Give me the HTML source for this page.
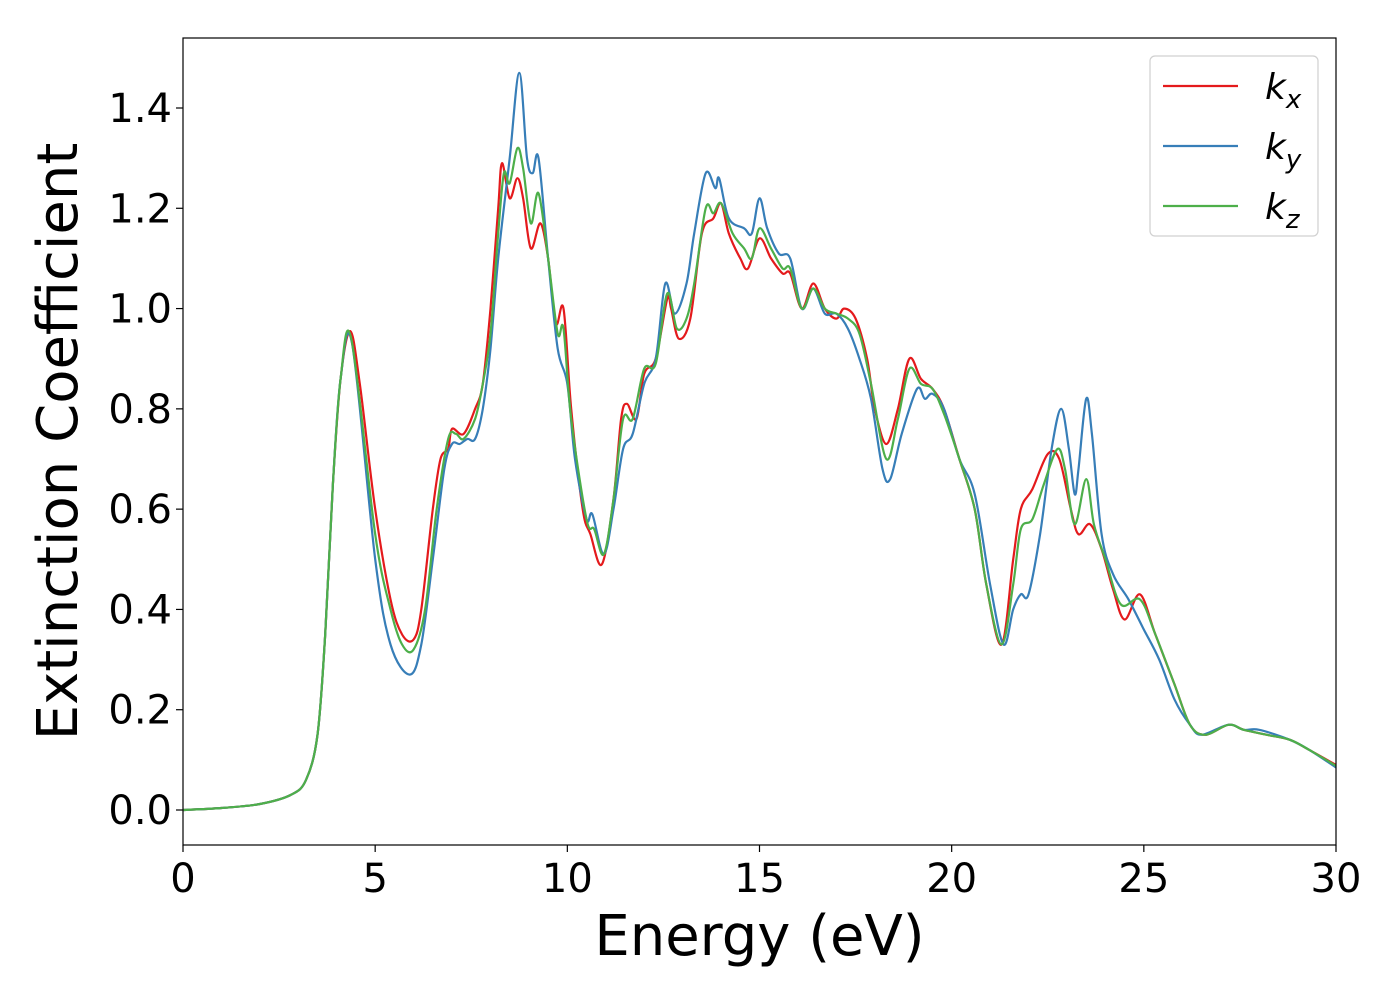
<!DOCTYPE html>
<html><head><meta charset="utf-8"><style>
body{margin:0;background:#fff;}
svg{display:block;font-family:"DejaVu Sans","Liberation Sans",sans-serif;}
</style></head><body>
<svg id="chart" width="1400" height="1000" viewBox="0 0 1400 1000"></svg>
<script>
const xTicks=[0,5,10,15,20,25,30];
const yTicks=[0.0,0.2,0.4,0.6,0.8,1.0,1.2,1.4];
const yTickLabels=["0.0","0.2","0.4","0.6","0.8","1.0","1.2","1.4"];
const baseE=[0,1,2,2.8,3.2,3.5,3.7,3.9,4.1];
const baseK=[0,0.004,0.012,0.03,0.06,0.15,0.35,0.65,0.86];
const kxE=[4.35,4.6,5,5.4,5.7,6,6.2,6.5,6.7,6.9,7.0,7.3,7.6,7.8,8.0,8.2,8.3,8.5,8.7,8.85,9.05,9.3,9.5,9.7,9.9,10.1,10.4,10.6,10.9,11.2,11.4,11.55,11.8,12.0,12.3,12.6,12.7,12.9,13.2,13.5,13.8,14.0,14.2,14.5,14.7,15.0,15.3,15.6,15.8,16.1,16.4,16.7,17.0,17.2,17.5,17.8,18.0,18.3,18.6,18.9,19.2,19.5,19.8,20.2,20.6,20.9,21.3,21.6,21.8,22.1,22.5,22.8,23.1,23.3,23.6,23.9,24.2,24.5,24.9,25.3,25.8,26.2,26.6,27.2,27.6,28.2,28.8,29.3,30];
const kxK=[0.955,0.85,0.6,0.42,0.35,0.34,0.4,0.6,0.7,0.72,0.76,0.75,0.8,0.85,1.0,1.2,1.29,1.22,1.26,1.22,1.12,1.17,1.1,0.97,1.0,0.8,0.6,0.55,0.49,0.62,0.78,0.81,0.78,0.87,0.9,1.02,1.0,0.94,0.98,1.15,1.18,1.21,1.15,1.1,1.08,1.14,1.1,1.07,1.07,1.0,1.05,1.0,0.98,1.0,0.98,0.9,0.8,0.73,0.8,0.9,0.86,0.84,0.8,0.7,0.6,0.45,0.33,0.5,0.6,0.64,0.71,0.7,0.6,0.55,0.57,0.52,0.44,0.38,0.43,0.35,0.25,0.17,0.15,0.17,0.16,0.15,0.14,0.12,0.09];
const kyE=[4.4,5,5.4,5.9,6.2,6.5,6.8,7.0,7.2,7.4,7.6,7.8,8.0,8.2,8.5,8.75,8.95,9.1,9.25,9.5,9.75,10.0,10.2,10.5,10.65,10.95,11.2,11.45,11.7,12.0,12.3,12.55,12.8,13.1,13.3,13.6,13.85,13.95,14.2,14.6,14.8,15.0,15.2,15.5,15.8,16.1,16.4,16.7,17.0,17.3,17.6,17.9,18.2,18.4,18.7,19.1,19.3,19.5,19.8,20.2,20.6,21.0,21.35,21.6,21.8,22.0,22.3,22.6,22.85,23.05,23.2,23.3,23.5,23.65,23.9,24.2,24.6,25.0,25.4,25.8,26.2,26.5,27.2,27.6,28.0,28.8,29.3,30];
const kyK=[0.93,0.5,0.33,0.27,0.33,0.5,0.68,0.73,0.73,0.74,0.74,0.8,0.92,1.1,1.3,1.47,1.3,1.27,1.3,1.1,0.92,0.85,0.7,0.58,0.59,0.51,0.6,0.72,0.75,0.85,0.9,1.05,0.99,1.05,1.15,1.27,1.24,1.26,1.18,1.16,1.15,1.22,1.16,1.11,1.1,1.0,1.04,0.99,0.99,0.96,0.9,0.82,0.68,0.66,0.75,0.84,0.82,0.83,0.8,0.7,0.63,0.45,0.33,0.4,0.43,0.43,0.55,0.72,0.8,0.72,0.63,0.68,0.82,0.75,0.55,0.47,0.42,0.36,0.3,0.22,0.17,0.15,0.17,0.16,0.16,0.14,0.12,0.085];
const kzE=[4.38,5,5.4,5.7,6.0,6.3,6.6,6.9,7.1,7.3,7.6,7.8,8.0,8.2,8.35,8.5,8.7,8.85,9.05,9.25,9.5,9.75,9.9,10.1,10.5,10.7,10.95,11.2,11.45,11.7,12.0,12.3,12.6,12.85,13.1,13.3,13.6,13.8,14.0,14.3,14.6,14.8,15.0,15.3,15.6,15.8,16.1,16.4,16.7,17.0,17.3,17.6,17.9,18.3,18.6,18.9,19.2,19.5,19.8,20.2,20.6,20.9,21.3,21.6,21.8,22.1,22.4,22.75,22.95,23.2,23.5,23.7,24.0,24.4,24.9,25.3,25.8,26.2,26.6,27.2,27.6,28.2,28.8,29.3,30];
const kzK=[0.94,0.55,0.4,0.33,0.32,0.4,0.6,0.74,0.75,0.74,0.78,0.85,0.95,1.15,1.27,1.25,1.32,1.28,1.17,1.23,1.1,0.95,0.96,0.78,0.58,0.56,0.51,0.62,0.78,0.78,0.88,0.89,1.03,0.96,0.98,1.05,1.2,1.19,1.21,1.15,1.12,1.1,1.16,1.12,1.08,1.08,1.0,1.04,1.0,0.99,0.98,0.95,0.85,0.7,0.78,0.88,0.85,0.84,0.79,0.7,0.6,0.45,0.33,0.45,0.56,0.58,0.65,0.72,0.68,0.57,0.66,0.57,0.5,0.41,0.42,0.35,0.25,0.17,0.15,0.17,0.16,0.15,0.14,0.12,0.088];

const NS="http://www.w3.org/2000/svg";
const svg=document.getElementById('chart');
const L=183,R=1336,T=38,B=845;
const sx=e=>L+(e-0)/(30-0)*(R-L);
const sy=k=>810-k*(810-108)/1.4;
function mk(tag,attrs,parent){const el=document.createElementNS(NS,tag);for(const a in attrs)el.setAttribute(a,attrs[a]);(parent||svg).appendChild(el);return el;}
function pathFrom(E,K){
  const p=E.map((e,i)=>[sx(e),sy(K[i])]);
  let d="M"+p[0][0].toFixed(1)+","+p[0][1].toFixed(1);
  for(let i=0;i<p.length-1;i++){
    const p0=p[i-1]||p[i],p1=p[i],p2=p[i+1],p3=p[i+2]||p2;
    const c1=[p1[0]+(p2[0]-p0[0])/6,p1[1]+(p2[1]-p0[1])/6];
    const c2=[p2[0]-(p3[0]-p1[0])/6,p2[1]-(p3[1]-p1[1])/6];
    d+=`C${c1[0].toFixed(1)},${c1[1].toFixed(1)} ${c2[0].toFixed(1)},${c2[1].toFixed(1)} ${p2[0].toFixed(1)},${p2[1].toFixed(1)}`;
  }
  return d;
}
// clip
const defs=mk('defs',{});const cp=mk('clipPath',{id:'plotclip'},defs);mk('rect',{x:L,y:T,width:R-L,height:B-T},cp);

const series=[["kx-line","#e41a1c",kxE,kxK],["ky-line","#377eb8",kyE,kyK],["kz-line","#4daf4a",kzE,kzK]];
series.forEach(s=>{
  const el=mk('path',{d:pathFrom(baseE.concat(s[2]),baseK.concat(s[3])),fill:'none',stroke:s[1],'stroke-width':2.2,'clip-path':'url(#plotclip)'});
  
  
});
// frame
const frame=mk('rect',{x:L,y:T,width:R-L,height:B-T,fill:'none',stroke:'#000','stroke-width':1.2});


// x ticks
xTicks.forEach(t=>{
  mk('line',{x1:sx(t),x2:sx(t),y1:B,y2:B+7,stroke:'#000','stroke-width':1.2});
  const tx=mk('text',{x:sx(t),y:B+47,'font-size':40,'text-anchor':'middle'});
  tx.textContent=t;
  
  
});
yTicks.forEach((t,i)=>{
  mk('line',{x1:L-7,x2:L,y1:sy(t),y2:sy(t),stroke:'#000','stroke-width':1.2});
  const tx=mk('text',{x:L-11,y:sy(t)+14,'font-size':40,'text-anchor':'end'});
  tx.textContent=yTickLabels[i];
  
  
});
const xl=mk('text',{x:(L+R)/2,y:955,'font-size':56,'text-anchor':'middle'});
xl.textContent="Energy (eV)";


const yl=mk('text',{x:0,y:0,'font-size':56,'text-anchor':'middle',transform:`translate(77,${(T+B)/2}) rotate(-90)`});
yl.textContent="Extinction Coefficient";


// legend
const lg=mk('g',{});


mk('rect',{x:1150,y:56,width:168,height:180,rx:5,fill:'#fff',stroke:'#ccc','stroke-width':1.2,opacity:0.9},lg);
const subs=["x","y","z"];
series.forEach((s,i)=>{
  const y=86+i*60;
  mk('line',{x1:1163,x2:1238,y1:y,y2:y,stroke:s[1],'stroke-width':2.2},lg);
  const t=mk('text',{x:1265,y:y+13,'font-size':36,'font-style':'italic'},lg);
  
  
  const a=document.createElementNS(NS,'tspan');a.textContent='k';t.appendChild(a);
  const b=document.createElementNS(NS,'tspan');b.setAttribute('font-size','26');b.setAttribute('dy','9');b.textContent=subs[i];t.appendChild(b);
});
</script>
</body></html>
